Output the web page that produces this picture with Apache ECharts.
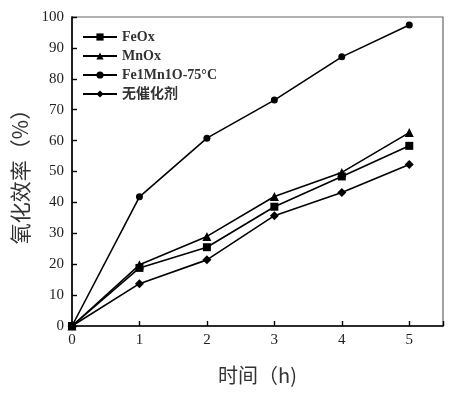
<!DOCTYPE html>
<html><head><meta charset="utf-8">
<script src="https://cdn.jsdelivr.net/npm/echarts@6/dist/echarts.min.js"></script>
<style>html,body{margin:0;padding:0;background:#fff}#c{width:450px;height:395px}</style>
</head><body><div id="c"></div>
<script>
var hours = [0, 1, 2, 3, 4, 5];
var seriesNames = ['FeOx', 'MnOx', 'Fe1Mn1O-75°C', '无催化剂'];
var feOx = [0, 18.8, 25.5, 38.6, 48.4, 58.3];
var mnOx = [0, 19.8, 29.0, 41.9, 49.7, 62.6];
var fe1Mn1O = [0, 41.8, 60.8, 73.1, 87.1, 97.4];
var noCatalyst = [0, 13.7, 21.4, 35.7, 43.2, 52.3];
var symbols = ['rect', 'triangle', 'circle', 'diamond'];
var symbolSizes = [8, 9, 7, 9];
var allValues = [feOx, mnOx, fe1Mn1O, noCatalyst];

var serif = '"Liberation Serif","DejaVu Serif",serif';
var cjk = '"Noto Sans CJK SC","Liberation Serif",serif';
var mixed = '"Liberation Serif","Noto Sans CJK SC",serif';

var chart = echarts.init(document.getElementById('c'));
var series = seriesNames.map(function (n, i) {
  return {
    name: n, type: 'line',
    data: hours.map(function (h, j) { return [h, allValues[i][j]]; }),
    symbol: symbols[i], symbolSize: symbolSizes[i], showAllSymbol: true,
    lineStyle: { color: '#000', width: 1.6 },
    itemStyle: { color: '#000' },
    animation: false
  };
});
chart.setOption({
  backgroundColor: '#fff',
  animation: false,
  grid: { left: 72, right: 7, top: 17, bottom: 69, show: true, borderColor: '#666', borderWidth: 1.2 },
  legend: {
    orient: 'vertical', left: 77, top: 25, itemWidth: 34, itemHeight: 9, itemGap: 5,
    textStyle: { fontFamily: mixed, fontSize: 14, fontWeight: 'bold', color: '#333' },
    data: seriesNames
  },
  xAxis: {
    type: 'value', min: 0, max: 5.5, interval: 1,
    name: '时间（h)', nameLocation: 'middle', nameGap: 39,
    nameTextStyle: { fontFamily: cjk, fontSize: 20, color: '#333' },
    axisLine: { lineStyle: { color: '#000', width: 1.6 } },
    axisTick: { inside: true, length: 5, lineStyle: { color: '#000', width: 1.4 } },
    axisLabel: {
      fontFamily: serif, fontSize: 15, color: '#222', margin: 7,
      formatter: function (v) { return v > 5 ? '' : String(v); }
    },
    splitLine: { show: false }
  },
  yAxis: {
    type: 'value', min: 0, max: 100, interval: 10,
    name: '氧化效率（%）', nameLocation: 'middle', nameGap: 39,
    nameTextStyle: { fontFamily: cjk, fontSize: 21, color: '#333' },
    axisLine: { lineStyle: { color: '#000', width: 1.6 } },
    axisTick: { inside: true, length: 5, lineStyle: { color: '#000', width: 1.4 } },
    axisLabel: { fontFamily: serif, fontSize: 15, color: '#222', margin: 8 },
    splitLine: { show: false }
  },
  series: series
});
</script></body></html>
